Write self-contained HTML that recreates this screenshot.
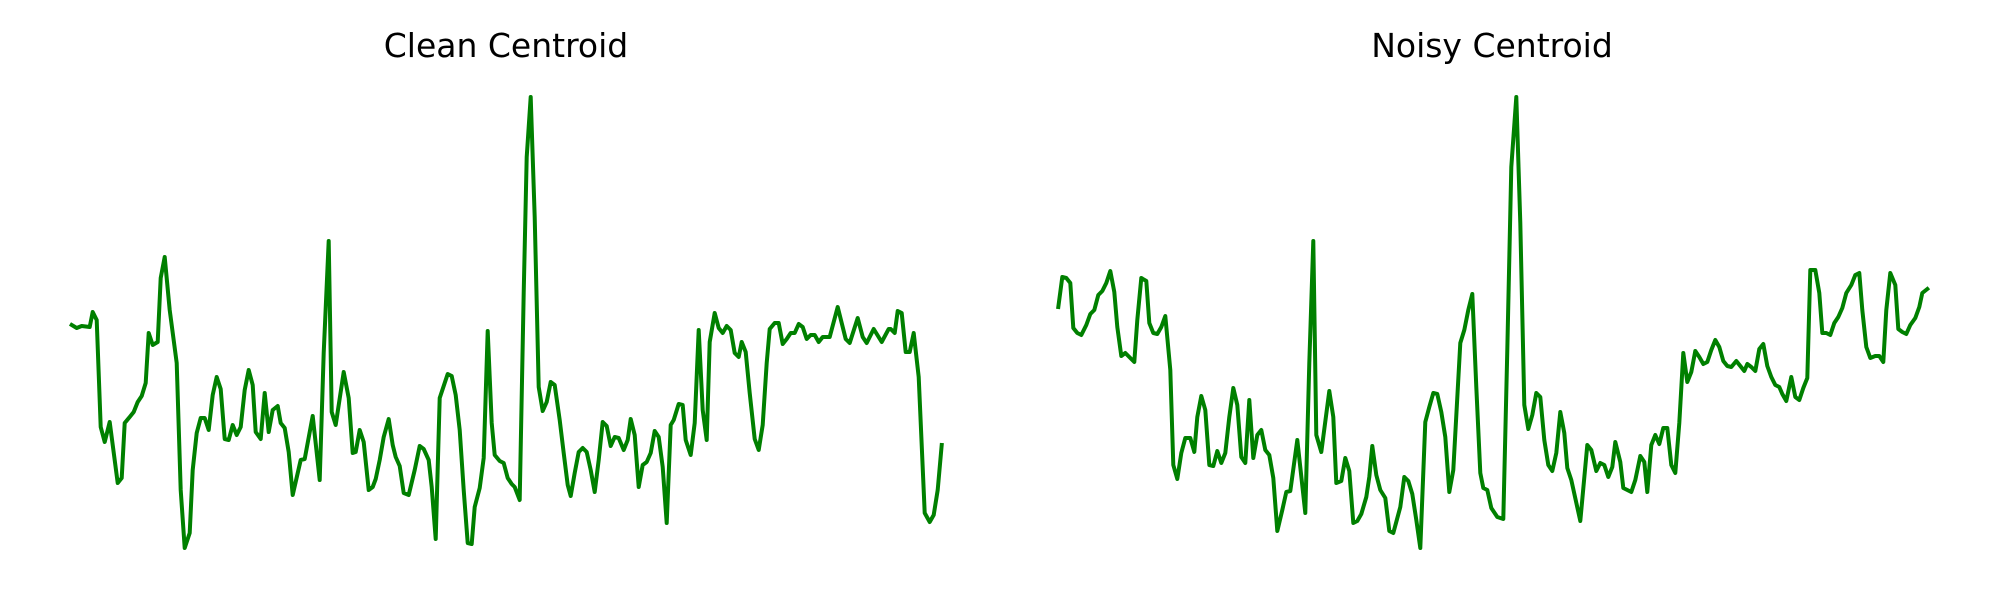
<!DOCTYPE html>
<html>
<head>
<meta charset="utf-8">
<style>
  html, body { margin: 0; padding: 0; background: #ffffff; }
  svg { display: block; }
  .title { font-family: "DejaVu Sans", "Liberation Sans", sans-serif; font-size: 33px; fill: #000; }
</style>
</head>
<body>
<svg id="chart" width="2000" height="600" viewBox="0 0 2000 600" xmlns="http://www.w3.org/2000/svg">
  <rect x="0" y="0" width="2000" height="600" fill="#ffffff"/>
  <text class="title" x="506" y="57" text-anchor="middle">Clean Centroid</text>
  <text class="title" x="1492" y="57" text-anchor="middle">Noisy Centroid</text>
  <g id="clean-plot"></g>
  <g id="noisy-plot"></g>
</svg>
<script>
// Clean centroid series: frame time and centroid value
const cleanTimes = [0,5,10,18,21,25,29,33,38,46,50,53,58,62,66,70,74,77,81,86,89,93,98,105,109,113,118,121,125,129,133,137,141,145,149,153,157,161,165,169,173,177,181,184,189,193,197,201,206,209,213,217,221,229,233,241,248,252,257,260,264,272,277,281,284,288,292,297,301,304,308,312,317,321,324,328,332,337,343,348,352,357,360,364,368,372,376,380,384,388,392,396,400,403,408,412,416,420,423,428,432,436,440,443,448,452,455,459,463,467,471,475,479,483,488,492,496,499,503,507,511,515,519,523,527,531,535,539,543,547,552,556,559,563,567,571,575,579,583,587,591,595,599,602,607,611,614,619,623,627,631,635,638,643,647,651,655,659,663,667,670,674,678,683,687,691,695,698,703,707,711,715,719,723,727,731,735,739,743,747,751,758,766,774,778,786,791,795,802,810,817,819,823,826,830,834,838,842,847,853,858,862,866,870];
const cleanValues = [235,232,234,233,248,240,133,118,138,77,82,137,143,148,158,164,177,227,215,218,282,303,250,197,70,12,27,90,127,142,142,130,165,183,171,121,120,135,125,133,170,190,175,128,121,167,128,150,154,137,132,108,65,100,101,144,80,207,319,148,135,188,162,107,108,130,118,70,73,81,100,123,141,115,103,94,67,65,90,114,111,100,73,21,162,174,186,184,165,130,70,17,16,53,72,102,229,137,105,99,97,82,76,73,60,267,403,463,343,173,149,158,178,175,140,107,75,64,87,108,112,108,90,68,100,138,134,114,123,122,110,120,141,125,73,95,98,107,129,123,93,37,135,140,156,155,120,105,137,230,150,120,218,247,232,227,234,230,207,203,218,208,167,121,110,135,197,231,237,237,216,221,227,227,236,233,221,225,225,218,223,223,253,221,217,242,223,217,231,218,231,231,227,249,247,208,208,227,183,47,38,45,70,115];
// Noisy centroid series
const noisyTimes = [0,4,8,12,15,19,23,28,32,36,40,44,48,52,56,59,63,67,72,76,79,83,88,91,95,99,103,107,112,115,119,123,127,132,136,139,143,147,151,155,159,163,167,171,175,179,183,187,191,195,199,203,207,211,215,219,224,228,232,239,247,251,255,258,263,271,275,278,283,287,291,295,299,303,308,311,314,318,322,327,331,335,342,346,350,354,358,362,367,371,375,379,383,387,391,395,402,406,410,414,418,422,425,429,433,439,445,449,453,458,462,466,470,474,478,482,486,490,494,498,502,506,509,513,522,529,533,538,542,546,550,554,557,562,565,573,577,582,586,589,593,597,601,605,609,613,617,621,625,629,633,637,641,645,649,653,657,661,665,669,673,678,682,686,689,693,697,701,705,709,713,717,721,724,728,733,737,741,745,749,752,757,761,764,768,772,776,780,784,788,793,797,801,804,808,812,817,821,825,828,832,837,840,844,848,852,857,861,864,869];
const noisyValues = [253,283,282,277,232,227,225,235,246,250,265,269,277,289,268,233,204,207,202,198,240,282,279,237,227,226,233,244,190,95,81,107,122,122,108,143,164,150,95,94,109,97,107,143,172,155,103,97,160,102,125,130,110,105,82,29,50,68,69,120,47,197,319,125,108,169,143,77,79,102,89,37,39,46,63,83,114,85,70,62,29,27,53,83,79,66,40,12,138,153,167,166,148,123,68,90,217,230,250,266,173,87,72,70,52,43,41,210,393,463,337,155,131,145,167,163,120,95,89,107,148,127,92,80,39,115,110,89,97,95,83,93,118,98,72,68,80,104,98,68,115,125,116,132,132,95,87,137,207,178,188,209,203,196,198,210,220,213,199,194,193,199,194,189,196,193,189,211,216,194,183,175,173,166,159,183,163,160,172,182,290,290,267,227,227,225,237,243,252,267,275,285,287,250,213,202,204,204,198,250,287,275,231,228,226,235,242,253,267,271];
const xDomain = [0, 870];
const yDomain = [0, 470];

const panels = {
  clean: { left: 71.7, right: 941.7, top: 90, bottom: 560 },
  noisy: { left: 1058.3, right: 1928.3, top: 90, bottom: 560 }
};

function makeX(p) { return t => p.left + (t - xDomain[0]) / (xDomain[1] - xDomain[0]) * (p.right - p.left); }
function makeY(p) { return v => p.bottom - (v - yDomain[0]) / (yDomain[1] - yDomain[0]) * (p.bottom - p.top); }

function drawLine(groupId, panel, times, values, name) {
  const xs = makeX(panel), ys = makeY(panel);
  let d = '';
  for (let i = 0; i < times.length; i++) {
    d += (i ? 'L' : 'M') + xs(times[i]).toFixed(2) + ',' + ys(values[i]).toFixed(2);
  }
  const path = document.createElementNS('http://www.w3.org/2000/svg', 'path');
  path.setAttribute('d', d);
  path.setAttribute('fill', 'none');
  path.setAttribute('stroke', '#008000');
  path.setAttribute('stroke-width', '4');
  path.setAttribute('stroke-linejoin', 'round');
  path.setAttribute('stroke-linecap', 'square');
  
  
  document.getElementById(groupId).appendChild(path);
}

drawLine('clean-plot', panels.clean, cleanTimes, cleanValues, 'clean-centroid-line');
drawLine('noisy-plot', panels.noisy, noisyTimes, noisyValues, 'noisy-centroid-line');
</script>
</body>
</html>
